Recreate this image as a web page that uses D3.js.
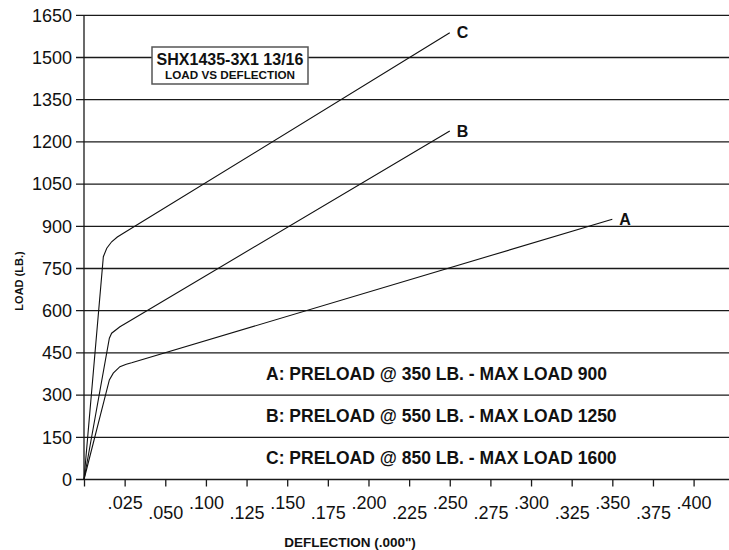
<!DOCTYPE html>
<html>
<head>
<meta charset="utf-8">
<script src="https://cdn.jsdelivr.net/npm/d3@7"></script>
<style>
  body { margin: 0; background: #fff; }
  svg { display: block; font-family: "Liberation Sans", Arial, Helvetica, sans-serif; }
</style>
</head>
<body>
<div id="chart"></div>
<script>
// values
const yTicks = [0, 150, 300, 450, 600, 750, 900, 1050, 1200, 1350, 1500, 1650];
const xTicks = d3.range(16).map(i => i * 0.025);
// the original sheet skips .075, labels kept as printed
const xTickLabels = [``, `.025`, `.050`, `.100`, `.125`, `.150`, `.175`, `.200`, `.225`, `.250`, `.275`, `.300`, `.325`, `.350`, `.375`, `.400`];

const seriesA = [[0, 0], [0.0156, 354], [0.018, 378], [0.0221, 401], [0.026, 410], [0.0293, 415], [0.325, 925]];
const seriesB = [[0, 0], [0.0156, 502], [0.017, 520], [0.0221, 543], [0.0273, 561], [0.225, 1239]];
const seriesC = [[0, 0], [0.0119, 792], [0.014, 822], [0.017, 845], [0.0205, 862], [0.0242, 875], [0.225, 1588]];
const seriesNames = [`A`, `B`, `C`];

const legendLines = [
  `A: PRELOAD @ 350 LB. - MAX LOAD 900`,
  `B: PRELOAD @ 550 LB. - MAX LOAD 1250`,
  `C: PRELOAD @ 850 LB. - MAX LOAD 1600`,
];
const titleLines = [`SHX1435-3X1 13/16`, `LOAD VS DEFLECTION`];

const width = 729;
const height = 550;
const margin = {top: 15.3, right: 35.4, bottom: 70.5, left: 84};

const x = d3.scaleLinear()
  .domain([0, 0.375])
  .range([margin.left, width - margin.right]);

const y = d3.scaleLinear()
  .domain([0, 1650])
  .range([height - margin.bottom, margin.top]);

const svg = d3.select(`#chart`)
  .append(`svg`)
    .attr(`width`, width)
    .attr(`height`, height);

// horizontal grid, runs out to the page edge
svg.append(`g`)
  .attr(`class`, `grid`)
  .selectAll(`line`)
  .data(yTicks)
  .enter().append(`line`)
    .attr(`x1`, margin.left - 8)
    .attr(`x2`, width)
    .attr(`y1`, d => y(d))
    .attr(`y2`, d => y(d))
    .attr(`stroke`, `#1a1a1a`)
    .attr(`stroke-width`, 1.3);

// y axis
const yAxis = svg.append(`g`)
  .attr(`transform`, `translate(${margin.left},0)`)
  .call(d3.axisLeft(y).tickValues(yTicks).tickFormat(d3.format(`d`)).tickSize(0).tickPadding(12));
yAxis.select(`.domain`).remove();
yAxis.selectAll(`text`)
  .attr(`font-size`, 18)
  .attr(`fill`, `#111`);

svg.append(`line`)
  .attr(`x1`, margin.left)
  .attr(`x2`, margin.left)
  .attr(`y1`, y(1650))
  .attr(`y2`, y(0))
  .attr(`stroke`, `#1a1a1a`)
  .attr(`stroke-width`, 1.3);

// x axis, labels staggered up/down
const xAxis = svg.append(`g`)
  .attr(`transform`, `translate(0,${y(0)})`)
  .call(d3.axisBottom(x).tickValues(xTicks).tickSize(7).tickFormat((d, i) => xTickLabels[i]));
xAxis.select(`.domain`).remove();
xAxis.selectAll(`line`)
  .attr(`stroke`, `#1a1a1a`)
  .attr(`stroke-width`, 1.3);
xAxis.selectAll(`text`)
  .attr(`font-size`, 18)
  .attr(`fill`, `#111`)
  .attr(`dy`, null)
  .attr(`y`, (d, i) => i % 2 === 1 ? 29 : 39);

// curves
const line = d3.line()
  .x(d => x(d[0]))
  .y(d => y(d[1]));

const series = [seriesA, seriesB, seriesC];

svg.append(`g`)
  .selectAll(`path`)
  .data(series)
  .enter().append(`path`)
    .attr(`d`, line)
    .attr(`fill`, `none`)
    .attr(`stroke`, `#111`)
    .attr(`stroke-width`, 1.1);

svg.append(`g`)
  .selectAll(`text`)
  .data(series)
  .enter().append(`text`)
    .attr(`x`, d => x(d[d.length - 1][0]) + 7)
    .attr(`y`, d => y(d[d.length - 1][1]))
    .attr(`dy`, `0.35em`)
    .attr(`font-size`, 16)
    .attr(`font-weight`, `bold`)
    .attr(`fill`, `#111`)
    .text((d, i) => seriesNames[i]);

// title box
const box = svg.append(`g`);
box.append(`rect`)
  .attr(`x`, 152)
  .attr(`y`, 47)
  .attr(`width`, 156)
  .attr(`height`, 37)
  .attr(`fill`, `#fff`)
  .attr(`stroke`, `#555`)
  .attr(`stroke-width`, 1.5);
box.append(`text`)
  .attr(`x`, 230)
  .attr(`y`, 65)
  .attr(`text-anchor`, `middle`)
  .attr(`font-size`, 16)
  .attr(`font-weight`, `bold`)
  .attr(`fill`, `#111`)
  .text(titleLines[0]);
box.append(`text`)
  .attr(`x`, 230)
  .attr(`y`, 79)
  .attr(`text-anchor`, `middle`)
  .attr(`font-size`, 11.7)
  .attr(`font-weight`, `bold`)
  .attr(`fill`, `#111`)
  .text(titleLines[1]);

// legend text sits in the bottom bands
svg.append(`g`)
  .selectAll(`text`)
  .data(legendLines)
  .enter().append(`text`)
    .attr(`x`, 266)
    .attr(`y`, (d, i) => y(450 - i * 150) + 27)
    .attr(`font-size`, 17.5)
    .attr(`font-weight`, `bold`)
    .attr(`fill`, `#111`)
    .text(d => d);

// axis titles
svg.append(`text`)
  .attr(`x`, 350)
  .attr(`y`, 547)
  .attr(`text-anchor`, `middle`)
  .attr(`font-size`, 13.5)
  .attr(`font-weight`, `bold`)
  .attr(`fill`, `#111`)
  .text(`DEFLECTION (.000")`);

svg.append(`text`)
  .attr(`transform`, `translate(23,281) rotate(-90)`)
  .attr(`text-anchor`, `middle`)
  .attr(`font-size`, 11)
  .attr(`font-weight`, `bold`)
  .attr(`fill`, `#111`)
  .text(`LOAD (LB.)`);
</script>
</body>
</html>
